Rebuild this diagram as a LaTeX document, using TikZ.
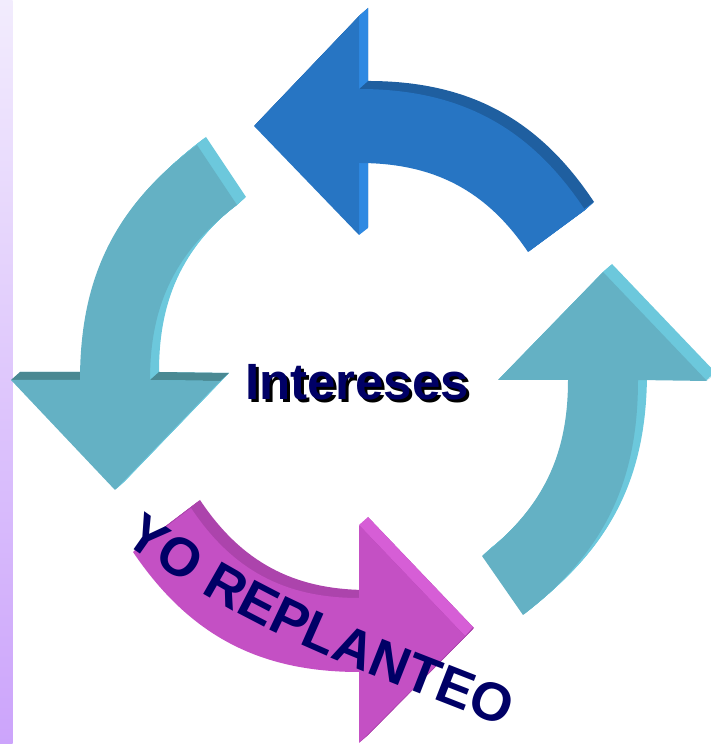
\documentclass[tikz,border=0pt]{standalone}
\usepackage{fontspec}
\setmainfont{Liberation Sans}
\usetikzlibrary{decorations.text}

\definecolor{stripTop}{RGB}{242,236,253}
\definecolor{stripBottom}{RGB}{204,164,251}
\definecolor{blueFront}{RGB}{39,117,195}
\definecolor{blueLight}{RGB}{46,137,226}
\definecolor{blueDark}{RGB}{31,95,160}
\definecolor{tealFront}{RGB}{100,177,196}
\definecolor{tealLight}{RGB}{108,200,220}
\definecolor{tealDark}{RGB}{74,137,147}
\definecolor{magFront}{RGB}{196,80,196}
\definecolor{magLight}{RGB}{214,94,214}
\definecolor{magDark}{RGB}{172,68,172}
\definecolor{navyText}{RGB}{0,0,102}

\newcommand{\bigfont}{\fontsize{51}{51}\selectfont\bfseries}
\newcommand{\curvefont}{\fontsize{54}{54}\selectfont\bfseries}

\begin{document}
\begin{tikzpicture}[x=1pt, y=1pt]
    \useasboundingbox (0,0) rectangle (711,744);
    % Side strip
    \shade[top color=stripTop, bottom color=stripBottom] (0,0) rectangle (12.5,744);

    % Top arrow (blue, pointing left)
    \begin{scope}
        \foreach \k in {1,...,9}
            \fill[blueDark, shift={(\k,0.89*\k)}] (254,618) -- (359,728) -- (359,655) to[out=0, in=123.5] (585,534) -- (528,492) to[out=124, in=0] (359,581) -- (359,509) -- cycle;
        \fill[blueLight] (359,728) -- (368,736) -- (368,663) -- (359,655) -- cycle;
        \fill[blueLight] (359,581) -- (368,589) -- (368,516) -- (359,509) -- cycle;
        \fill[blueLight] (528,492) -- (537,500) -- (594,542) -- (585,534) -- cycle;
        \fill[blueFront] (254,618) -- (359,728) -- (359,655) to[out=0, in=123.5] (585,534) -- (528,492) to[out=124, in=0] (359,581) -- (359,509) -- cycle;
    \end{scope}

    % Left arrow (teal, pointing down)
    \begin{scope}
        \foreach \k in {1,...,9}
            \fill[tealLight, shift={(\k,0.89*\k)}] (115,254) -- (11,364) -- (80,364) to[out=90, in=216.7] (197,599) -- (237,539) to[out=217, in=90] (150,364) -- (220,363) -- cycle;
        \fill[tealDark] (11,364) -- (20,372) -- (89,372) -- (80,364) -- cycle;
        \fill[tealDark] (150,364) -- (159,372) -- (229,371) -- (220,363) -- cycle;
        \fill[tealFront] (115,254) -- (11,364) -- (80,364) to[out=90, in=216.7] (197,599) -- (237,539) to[out=217, in=90] (150,364) -- (220,363) -- cycle;
    \end{scope}

    % Right arrow (teal, pointing up)
    \begin{scope}
        \foreach \k in {1,...,9}
            \fill[tealLight, shift={(\k,0.89*\k)}] (603,472) -- (707,363) -- (638,364) to[out=-90, in=37.6] (523,129) -- (482,188) to[out=38.5, in=-90] (568,364) -- (498,364) -- cycle;
        \fill[tealFront] (603,472) -- (707,363) -- (638,364) to[out=-90, in=37.6] (523,129) -- (482,188) to[out=38.5, in=-90] (568,364) -- (498,364) -- cycle;
    \end{scope}

    % Bottom arrow (magenta, pointing right)
    \begin{scope}
        \foreach \k in {1,...,9}
            \fill[magDark, shift={(\k,0.89*\k)}] (465,108) -- (359,219) -- (359,146) to[out=180, in=-56.3] (191,236) -- (133,192) to[out=-55.9, in=180] (359,72) -- (359,1) -- cycle;
        \fill[magLight] (359,219) -- (368,227) -- (473,117) -- (465,108) -- cycle;
        \fill[magFront] (465,108) -- (359,219) -- (359,146) to[out=180, in=-56.3] (191,236) -- (133,192) to[out=-55.9, in=180] (359,72) -- (359,1) -- cycle;
    \end{scope}

    % Texts
    \node[anchor=base, text=black] (titleshadow) at (360,341) {\bigfont Intereses};
    \node[anchor=base, text=navyText] (title) at (357,344) {\bigfont Intereses};
    \path[decorate, decoration={text along path, text color=navyText,
        text={|\curvefont|YO REPLANTEO}}] (123,203) to[out=-36, in=157] (545,0);
\end{tikzpicture}
\end{document}
